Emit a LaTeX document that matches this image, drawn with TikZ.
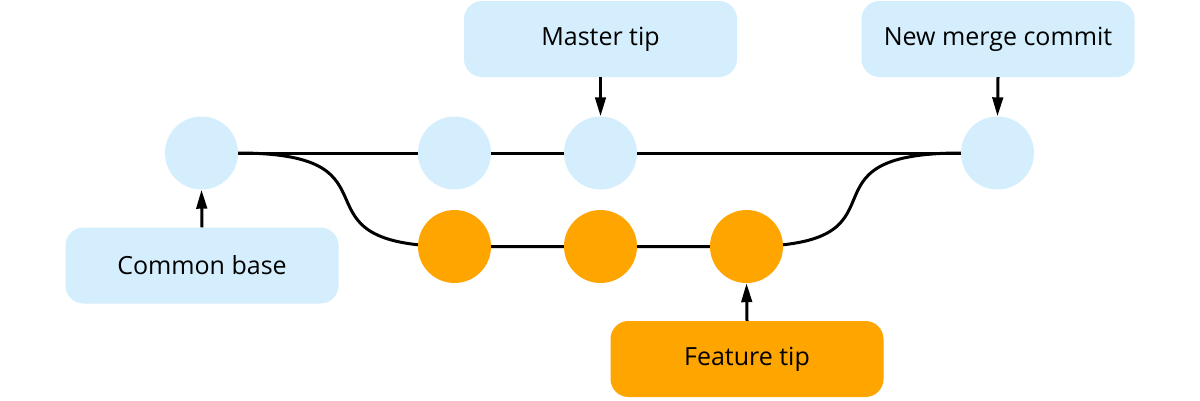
\documentclass[tikz,border=0pt]{standalone}
\usepackage{fontspec}
\setmainfont{Open Sans}
\usetikzlibrary{arrows.meta}
\definecolor{lblue}{HTML}{D4EEFD}
\definecolor{orng}{HTML}{FFA500}
\pgfdeclarelayer{bg}
\pgfsetlayers{bg,main}
\begin{document}
\begin{tikzpicture}[x=1pt,y=-1pt,
  commit/.style={circle,inner sep=0pt,minimum size=73pt},
  mcommit/.style={commit,fill=lblue},
  fcommit/.style={commit,fill=orng},
  label box/.style={rounded corners=18pt,minimum width=273pt,minimum height=76pt,inner sep=0pt,font=\fontsize{25pt}{30pt}\selectfont},
  mbox/.style={label box,fill=lblue},
  fbox/.style={label box,fill=orng},
  branch/.style={line width=3pt,draw=black},
  arr/.style={line width=3pt,-{Triangle[length=19pt,width=10.5pt]}}]
\useasboundingbox (0,0) rectangle (1200,400);
% commits
\node[mcommit] (c1) at (201.5,153) {};
\node[mcommit] (c2) at (454.5,153) {};
\node[mcommit] (c3) at (600.5,153) {};
\node[mcommit] (c4) at (997.5,153) {};
\node[fcommit] (b1) at (454.5,246.5) {};
\node[fcommit] (b2) at (600.5,246.5) {};
\node[fcommit] (b3) at (746.5,246.5) {};
% labels
\node[mbox] (mt) at (600.5,39) {Master tip};
\node[mbox] (nm) at (998,39) {New merge commit};
\node[mbox] (cb) at (202,265.5) {Common base};
\node[fbox] (ft) at (747,359) {Feature tip};
% branches
\begin{pgfonlayer}{bg}
\fill[white] (0,0) rectangle (1200,400);
\draw[branch] (c1.east) -- (c2.center) -- (c3.center) -- (c4.west);
\draw[branch] (c1.east) .. controls +(175,0) and +(-175,0) .. (b1.center) -- (b2.center) -- (b3.center)
  .. controls +(175,0) and +(-175,0) .. (c4.west);
\end{pgfonlayer}
% pointers
\draw[arr] (mt.south) -- (c3.north);
\draw[arr] (nm.south) -- (c4.north);
\draw[arr] (cb.north) -- (c1.south);
\draw[arr] (ft.north) -- (b3.south);
\end{tikzpicture}
\end{document}
